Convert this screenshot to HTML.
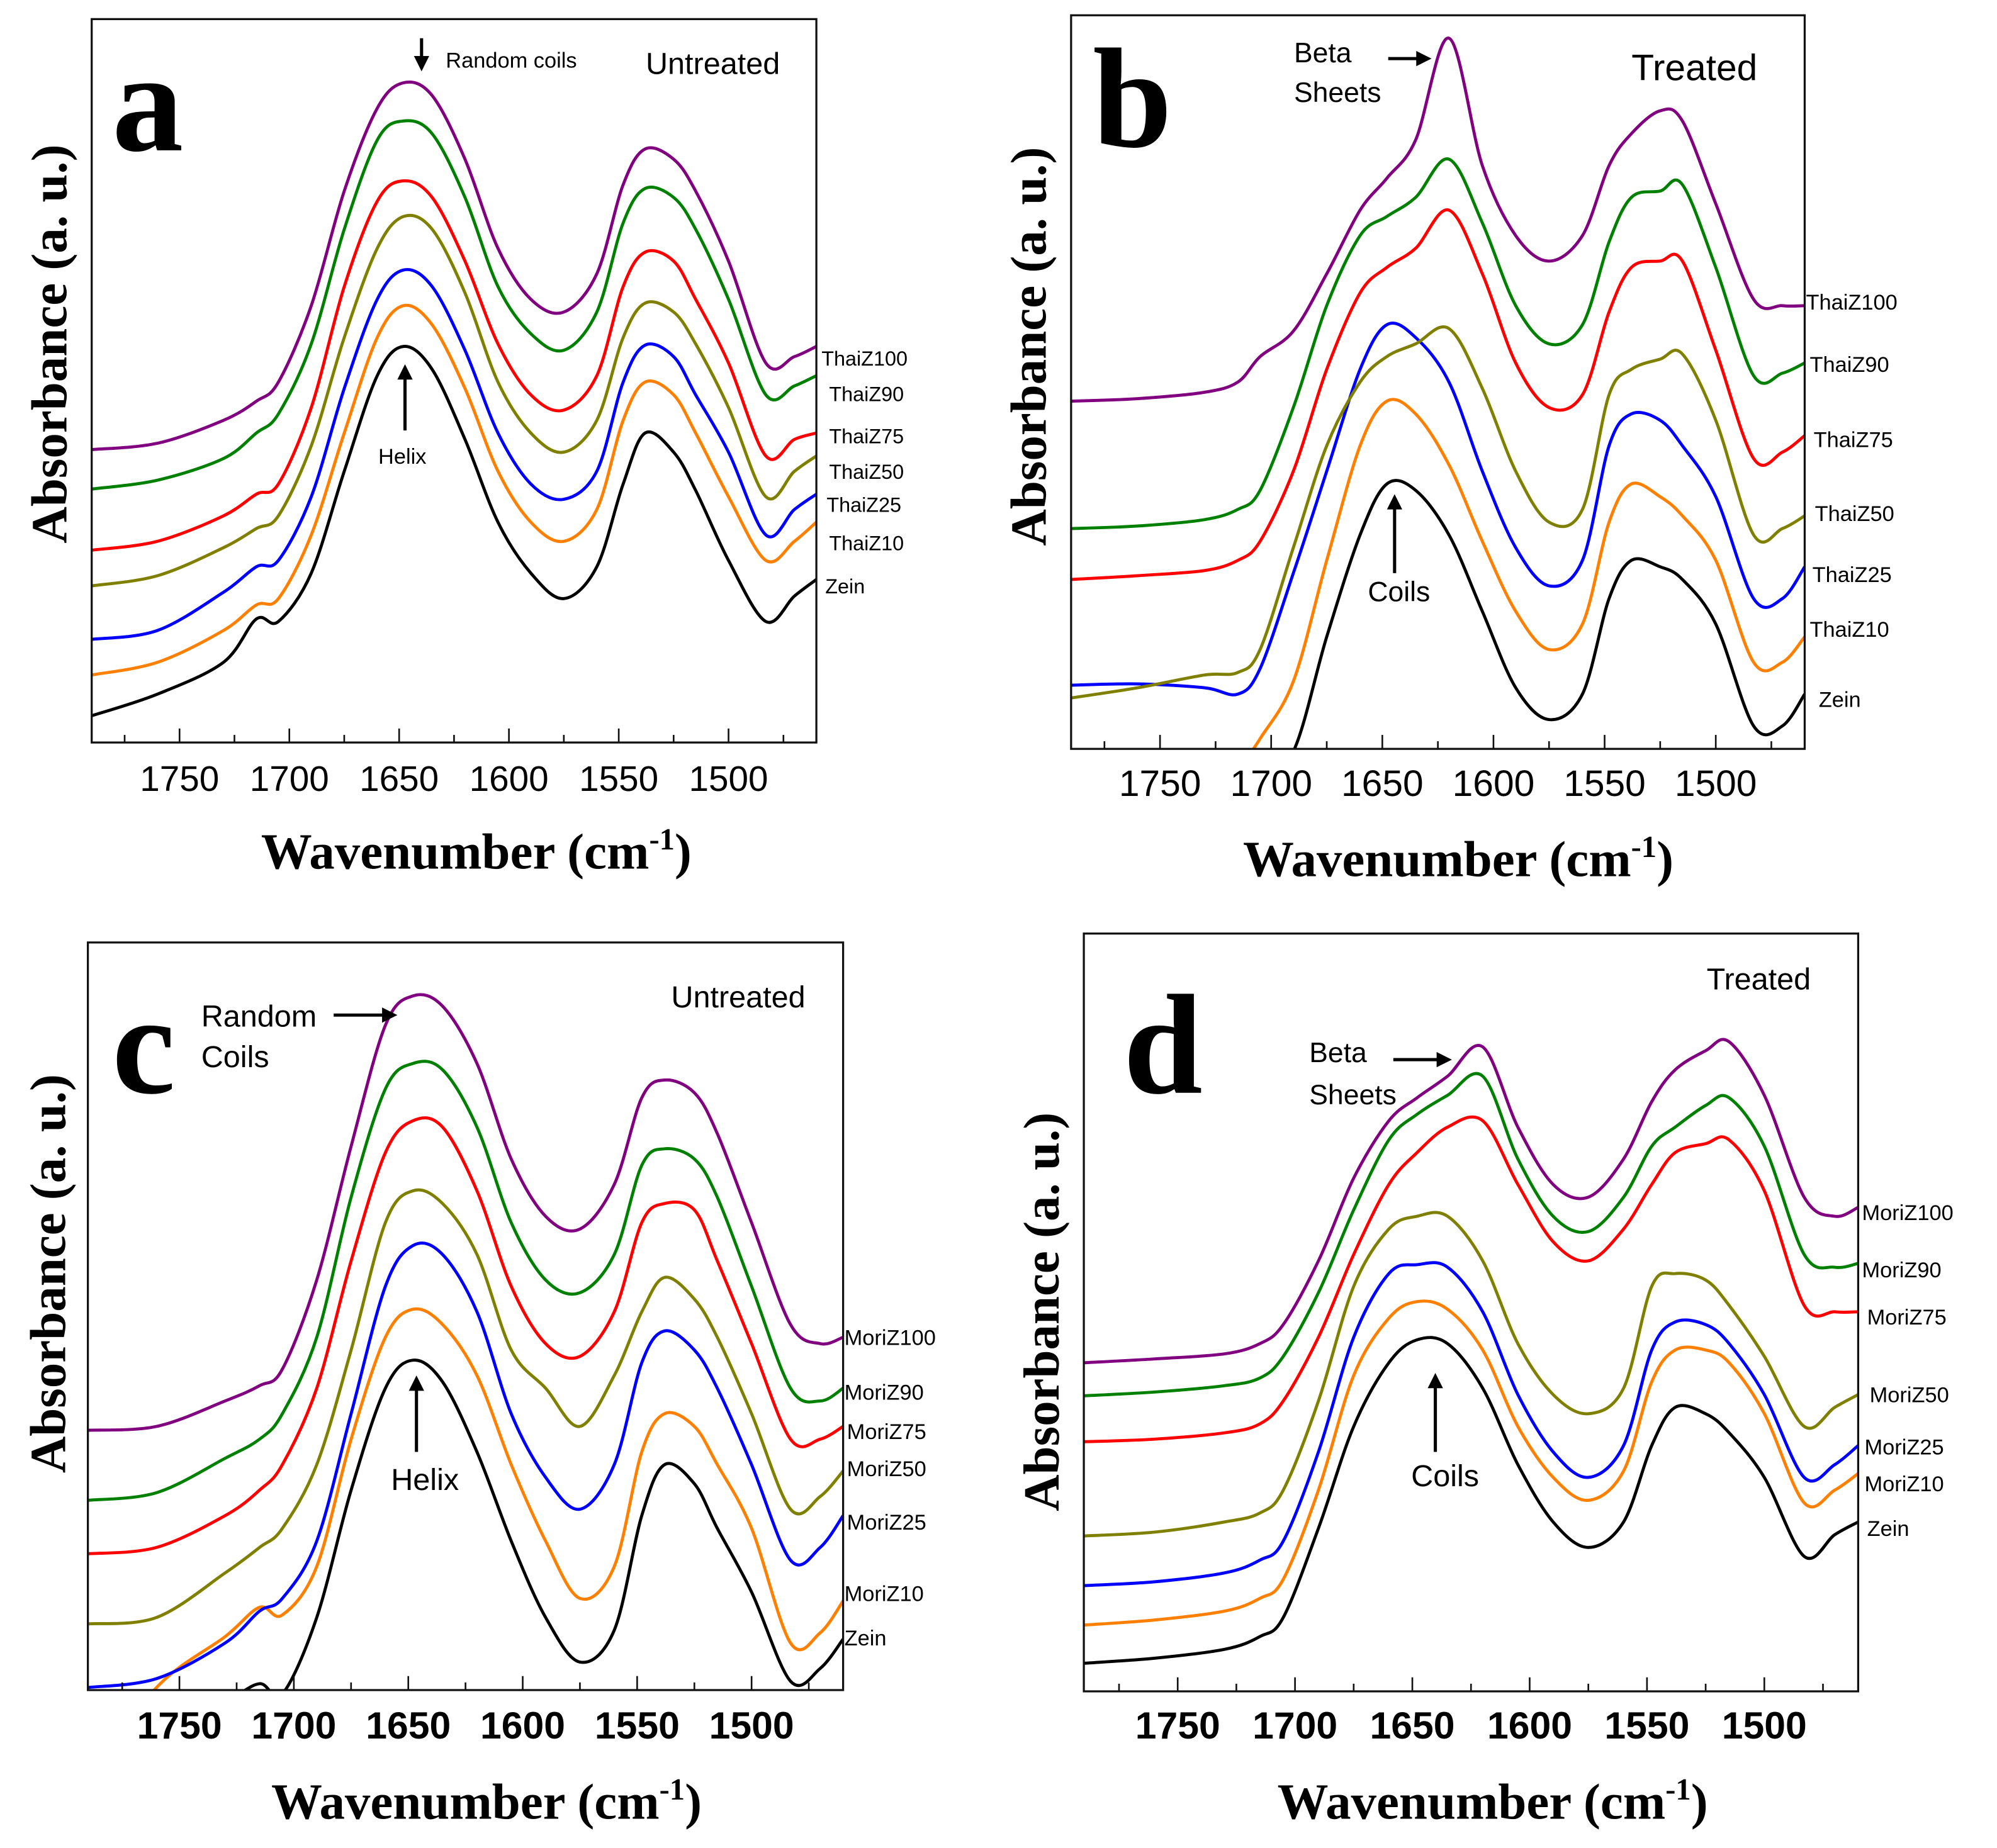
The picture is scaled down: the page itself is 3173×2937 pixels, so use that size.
<!DOCTYPE html>
<html><head><meta charset="utf-8"><style>
html,body{margin:0;padding:0;background:#fff;}
svg{display:block;}
</style></head><body>
<svg id="fig" width="3173" height="2937" viewBox="0 0 1568 1451" preserveAspectRatio="none" xmlns="http://www.w3.org/2000/svg">
<rect x="0" y="0" width="1568" height="1451" fill="#fff"/>
</svg>
<script>
// Wavenumber sample points (cm-1)
const wavenumbers = [1790,1760,1730,1715,1705,1690,1675,1660,1648,1635,1620,1605,1590,1575,1560,1548,1538,1525,1515,1500,1483,1470,1460];
const seriesNamesThai = ["Zein","ThaiZ10","ThaiZ25","ThaiZ50","ThaiZ75","ThaiZ90","ThaiZ100"];
const seriesNamesMori = ["Zein","MoriZ10","MoriZ25","MoriZ50","MoriZ75","MoriZ90","MoriZ100"];
const xTicks = [1750,1700,1650,1600,1550,1500];
const xMinorTicks = [1775,1725,1675,1625,1575,1525,1475];
// Panel a: untreated Thai (absorbance, arbitrary units)
const aZein=[21,38,63,97,95,133,213,288,311,293,238,173,133,113,138,203,243,228,198,143,95,115,128];
const aZ10=[53,63,88,108,113,163,243,318,343,328,278,213,173,158,183,253,283,273,243,193,143,158,173];
const aZ25=[81,88,118,138,143,193,278,348,371,358,308,243,203,191,213,283,312,303,273,228,163,183,195];
const aZ50=[123,131,153,168,178,233,318,388,413,403,353,283,243,228,253,318,345,338,313,263,193,213,225];
const aZ75=[151,158,178,195,203,263,358,425,441,428,378,313,273,261,288,358,385,378,348,298,225,238,243];
const aZ90=[199,206,223,243,258,313,403,473,488,478,428,358,321,308,338,408,435,428,403,348,273,280,288];
const aZ100=[230,235,253,268,283,343,433,498,518,508,458,388,348,338,368,438,466,458,433,378,298,303,311];
// Panel b: treated Thai
const bZein=[-112,-102,-72,-52,-22,-2,88,168,208,203,168,108,48,23,43,118,148,143,133,98,18,18,43];
const bZ10=[-112,-92,-52,-17,8,53,148,238,273,263,223,163,108,78,98,178,208,198,183,148,68,68,88];
const bZ25=[50,51,48,43,63,138,218,298,333,323,288,218,158,128,148,238,263,258,238,198,118,118,143];
const bZ50=[40,48,58,60,78,158,238,288,308,318,330,283,218,178,188,278,298,306,310,258,168,173,183];
const bZ75=[133,136,140,148,163,218,298,358,378,393,423,373,303,268,278,343,378,383,383,313,228,233,246];
const bZ90=[173,175,180,188,203,268,348,403,418,433,463,413,348,318,333,398,433,438,443,378,293,295,303];
const bZ100=[273,275,280,288,308,328,373,423,448,478,558,458,403,383,403,458,483,501,493,428,353,348,348];
// Panel c: untreated Mori
const cZein=[-33,-23,-8,5,-3,57,157,237,259,242,187,117,57,22,47,137,177,162,127,77,7,17,40];
const cZ10=[-73,2,42,65,59,97,197,277,299,287,247,177,117,72,97,187,217,207,177,127,37,45,70];
const cZ25=[2,9,37,62,72,117,217,317,349,342,297,217,167,142,177,257,282,267,237,177,102,112,137];
const cZ50=[52,57,92,112,127,177,267,367,392,382,342,267,237,207,247,297,324,307,277,217,142,152,172];
const cZ75=[107,112,137,157,177,237,337,422,447,442,392,317,272,262,297,367,382,377,337,272,197,197,207];
const cZ90=[149,155,182,197,217,277,387,472,492,487,442,367,322,312,342,412,425,417,387,317,237,227,237];
const cZ100=[204,207,227,239,252,322,427,522,545,537,492,417,372,362,397,465,479,469,437,367,287,272,277];
// Panel d: treated Mori
const dZein=[22,26,33,43,58,128,208,258,276,273,238,178,133,113,133,193,223,218,203,168,106,123,133];
const dZ10=[52,56,63,73,88,158,248,293,306,300,268,208,168,150,173,243,268,268,258,218,148,158,171];
const dZ25=[83,86,93,103,118,188,278,328,335,333,298,233,188,168,193,268,290,288,273,233,168,178,193];
const dZ50=[122,125,133,140,158,228,318,363,373,373,338,273,233,218,238,318,328,323,303,263,208,223,233];
const dZ75=[196,198,203,210,228,278,343,398,423,443,448,398,353,338,363,398,423,430,433,393,303,298,298];
const dZ90=[232,235,240,246,263,313,378,433,453,468,483,418,373,361,388,428,443,460,466,428,343,333,336];
const dZ100=[258,261,265,273,288,338,403,448,466,483,506,443,398,388,418,463,488,503,510,468,388,373,380];

const colors=["#000000","#ff7f00","#0000ff","#808000","#ff0000","#008000","#800080"];
const NS="http://www.w3.org/2000/svg";
const svg=document.getElementById('fig');
function el(tag,attrs,parent,text){const e=document.createElementNS(NS,tag);for(const k in attrs)e.setAttribute(k,attrs[k]);if(text!==undefined)e.textContent=text;(parent||svg).appendChild(e);return e;}

const panels=[
 {id:'a',L:72,T:15,R:641,B:583,series:[aZein,aZ10,aZ25,aZ50,aZ75,aZ90,aZ100],names:seriesNamesThai,bold:false,
  labels:[[648,466],[651,432],[649,402],[651,376],[651,348],[651,315],[645,287]],lsize:16,
  tickY:621,tsize:28,ytitle:[43,270],xtitle:[374,682],letter:[88,118]},
 {id:'b',L:841,T:12,R:1417,B:588,series:[bZein,bZ10,bZ25,bZ50,bZ75,bZ90,bZ100],names:seriesNamesThai,bold:false,
  labels:[[1428,555],[1421,500],[1423,457],[1425,409],[1424,351],[1421,292],[1418,243]],lsize:17,
  tickY:625,tsize:29,ytitle:[812,272],xtitle:[1145,688],letter:[858,115]},
 {id:'c',L:69,T:740,R:662,B:1327,series:[cZein,cZ10,cZ25,cZ50,cZ75,cZ90,cZ100],names:seriesNamesMori,bold:true,
  labels:[[663,1292],[663,1257],[665,1201],[665,1159],[665,1130],[663,1099],[663,1056]],lsize:17,
  tickY:1365,tsize:30,ytitle:[42,1000],xtitle:[382,1428],letter:[88,858]},
 {id:'d',L:851,T:733,R:1459,B:1328,series:[dZein,dZ10,dZ25,dZ50,dZ75,dZ90,dZ100],names:seriesNamesMori,bold:true,
  labels:[[1466,1206],[1464,1171],[1464,1142],[1468,1101],[1466,1040],[1462,1003],[1462,958]],lsize:17,
  tickY:1365,tsize:30,ytitle:[822,1030],xtitle:[1172,1428],letter:[882,858]}
];

function path(pts){let d='M'+pts[0][0].toFixed(1)+','+pts[0][1].toFixed(1);
 for(let i=0;i<pts.length-1;i++){const p0=pts[Math.max(0,i-1)],p1=pts[i],p2=pts[i+1],p3=pts[Math.min(pts.length-1,i+2)];
  const c1=[p1[0]+(p2[0]-p0[0])/6,p1[1]+(p2[1]-p0[1])/6],c2=[p2[0]-(p3[0]-p1[0])/6,p2[1]-(p3[1]-p1[1])/6];
  d+=' C'+c1[0].toFixed(1)+','+c1[1].toFixed(1)+' '+c2[0].toFixed(1)+','+c2[1].toFixed(1)+' '+p2[0].toFixed(1)+','+p2[1].toFixed(1);}
 return d;}

panels.forEach(p=>{
 const g=el('g',{});
 
 
 const xs=w=>p.L+(1790-w)*(p.R-p.L)/330;
 const ys=v=>p.B-v;
 const cp=el('clipPath',{id:'clip'+p.id},g);
 el('rect',{x:p.L,y:p.T,width:p.R-p.L,height:p.B-p.T},cp);
 const sg=el('g',{'clip-path':'url(#clip'+p.id+')'},g);
 p.series.forEach((s,i)=>{
  const pts=wavenumbers.map((w,j)=>[xs(w),ys(s[j])]);
  const pe=el('path',{d:path(pts),fill:'none',stroke:colors[i],'stroke-width':2.4,'stroke-linejoin':'round'},sg);
  
  
 });
 const fr=el('rect',{x:p.L,y:p.T,width:p.R-p.L,height:p.B-p.T,fill:'none',stroke:'#111','stroke-width':1.6},g);
 
 
 xTicks.forEach(t=>{
  const x=xs(t);
  el('line',{x1:x,x2:x,y1:p.B,y2:p.B-11,stroke:'#111','stroke-width':1.3},g);
  const tl=el('text',{x:x,y:p.tickY,'text-anchor':'middle','font-family':'"Liberation Sans Narrow","Liberation Sans",sans-serif','font-size':p.tsize,'font-weight':p.bold?'bold':'normal',fill:'#000'},g,String(t));
  
  
 });
 xMinorTicks.forEach(t=>{const x=xs(t);el('line',{x1:x,x2:x,y1:p.B,y2:p.B-6,stroke:'#111','stroke-width':1.3},g);});
 p.series.forEach((s,i)=>{
  const lb=el('text',{x:p.labels[i][0],y:p.labels[i][1],'font-family':'"Liberation Sans",sans-serif','font-size':p.lsize,fill:'#000'},g,p.names[i]);
  
  
 });
 const yt=el('text',{x:0,y:0,transform:'translate('+p.ytitle[0]+','+p.ytitle[1]+') rotate(-90)','text-anchor':'middle','dominant-baseline':'middle','font-family':'"Liberation Serif",serif','font-size':40,'font-weight':'bold'},g,'Absorbance (a. u.)');
 
 
 const xt=el('text',{x:p.xtitle[0],y:p.xtitle[1],'text-anchor':'middle','font-family':'"Liberation Serif",serif','font-size':40,'font-weight':'bold'},g);
 
 
 el('tspan',{},xt,'Wavenumber (cm');
 el('tspan',{dy:-15,'font-size':24},xt,'-1');
 el('tspan',{dy:15},xt,')');
 const lt=el('text',{x:p.letter[0],y:p.letter[1],'font-family':'"Liberation Serif",serif','font-size':112,'font-weight':'bold'},g,p.id);
 
 
});

function ann(x,y,txt,size,name){const t=el('text',{x:x,y:y,'font-family':'"Liberation Sans",sans-serif','font-size':size,fill:'#000'},svg,txt);
 
 }
function arrow(x1,y1,x2,y2,name){
 const g=el('g',{});
 
 
 const dx=x2-x1,dy=y2-y1,l=Math.hypot(dx,dy),ux=dx/l,uy=dy/l,h=12,w=6;
 el('line',{x1:x1,y1:y1,x2:x2-ux*h*0.8,y2:y2-uy*h*0.8,stroke:'#000','stroke-width':2.5},g);
 el('polygon',{points:[x2,y2,x2-ux*h-uy*w,y2-uy*h+ux*w,x2-ux*h+uy*w,y2-uy*h-ux*w].join(','),fill:'#000'},g);}
// panel a
ann(507,58,'Untreated',24,'condition-label-a');
ann(350,53,'Random coils',17,'random-coils-label-a');
arrow(331,30,331,56,'random-coils-arrow-a');
ann(297,364,'Helix',17,'helix-label-a');
arrow(318,338,318,286,'helix-arrow-a');
// panel b
ann(1281,63,'Treated',29,'condition-label-b');
ann(1016,49,'Beta',22,'beta-label-b');
ann(1016,80,'Sheets',22,'sheets-label-b');
arrow(1090,46,1124,46,'beta-arrow-b');
ann(1074,472,'Coils',22,'coils-label-b');
arrow(1095,450,1095,388,'coils-arrow-b');
// panel c
ann(527,791,'Untreated',24,'condition-label-c');
ann(158,806,'Random',24,'random-label-c');
ann(158,838,'Coils',24,'coils-label-c');
arrow(262,797,312,797,'random-coils-arrow-c');
ann(307,1170,'Helix',24,'helix-label-c');
arrow(327,1140,327,1080,'helix-arrow-c');
// panel d
ann(1340,777,'Treated',24,'condition-label-d');
ann(1028,834,'Beta',22,'beta-label-d');
ann(1028,867,'Sheets',22,'sheets-label-d');
arrow(1094,832,1140,832,'beta-arrow-d');
ann(1108,1167,'Coils',24,'coils-label-d');
arrow(1127,1140,1127,1078,'coils-arrow-d');
</script>
</body></html>
